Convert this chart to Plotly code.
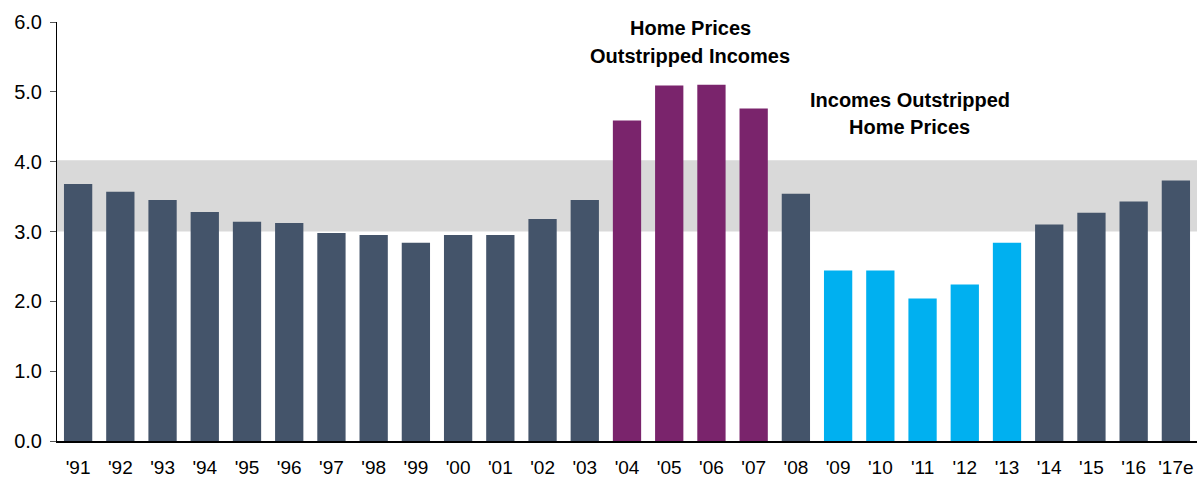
import plotly.graph_objects as go

# Years and ratio values
years = ["'91", "'92", "'93", "'94", "'95", "'96", "'97", "'98", "'99", "'00",
         "'01", "'02", "'03", "'04", "'05", "'06", "'07", "'08", "'09", "'10",
         "'11", "'12", "'13", "'14", "'15", "'16", "'17e"]
ratio = [3.68, 3.57, 3.45, 3.28, 3.14, 3.12, 2.98, 2.95, 2.84, 2.95,
         2.95, 3.18, 3.45, 4.59, 5.09, 5.10, 4.76, 3.54, 2.44, 2.44,
         2.04, 2.24, 2.84, 3.10, 3.27, 3.43, 3.73]

# Period grouping for colouring
period = ["normal"] * 13 + ["boom"] * 4 + ["normal"] + ["bust"] * 5 + ["normal"] * 4
palette = {"normal": "#44546A", "boom": "#7A246C", "bust": "#00B0F0"}
colors = [palette[p] for p in period]

# Historical normal range band
band_low, band_high = 3.0, 4.02

FONT = "Liberation Sans Narrow, Arial Narrow, Liberation Sans, Arial, sans-serif"

fig = go.Figure()
fig.add_trace(go.Bar(x=years, y=ratio, marker=dict(color=colors, line=dict(width=0)),
                     showlegend=False, hoverinfo="x+y"))

fig.add_shape(type="rect", xref="paper", yref="y", x0=0, x1=1,
              y0=band_low, y1=band_high, fillcolor="#D9D9D9",
              line=dict(width=0), layer="below")

# Callout labels, one line per annotation for tighter control of spacing
callouts = [
    (14.5, 5.92, "Home Prices"),
    (14.5, 5.51, "Outstripped Incomes"),
    (19.7, 4.89, "Incomes Outstripped"),
    (19.7, 4.49, "Home Prices"),
]
for cx, cy, txt in callouts:
    fig.add_annotation(x=cx, y=cy, xref="x", yref="y", text=txt, showarrow=False,
                       font=dict(family=FONT, size=20, color="#000000", weight="bold"),
                       align="center")

fig.update_layout(
    width=1199, height=481,
    margin=dict(l=57, r=2, t=22, b=40),
    paper_bgcolor="white", plot_bgcolor="white",
    bargap=0.33,
    font=dict(family=FONT, size=19, color="#000000"),
    xaxis=dict(showline=True, linecolor="#000000", linewidth=2, ticks="",
               showgrid=False, tickfont=dict(size=19), ticklabelstandoff=8),
    yaxis=dict(range=[0, 6], dtick=1, tickformat=".1f", showgrid=False,
               zeroline=False, showline=True, linecolor="#000000", linewidth=1,
               ticks="outside", ticklen=6, tickcolor="#555555",
               tickfont=dict(size=20), ticklabelstandoff=4),
)

fig.write_html("out.html")
